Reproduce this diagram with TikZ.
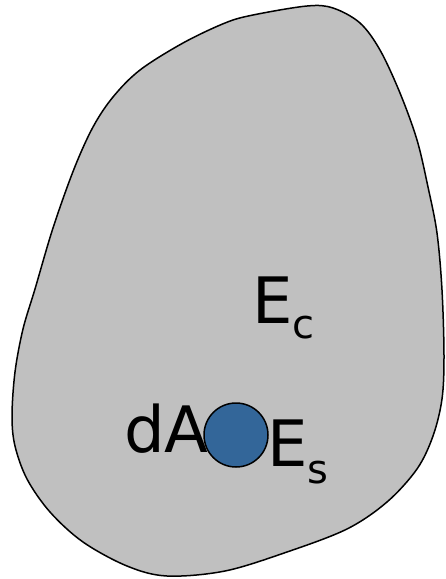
\documentclass[tikz,border=0pt]{standalone}
\usepackage{fontspec}
\setmainfont{DejaVu Sans}
\definecolor{blobgray}{HTML}{C0C0C0}
\definecolor{dotblue}{HTML}{336699}
\begin{document}
\begin{tikzpicture}[x=1pt,y=-1pt,
  lbl/.style={anchor=base west,inner sep=0pt,outer sep=0pt,font=\fontsize{64}{64}\selectfont},
  dot/.style={circle,draw=black,line width=1.5pt,fill=dotblue,minimum size=64pt,inner sep=0pt}]
\useasboundingbox (0,0) rectangle (445,579);
\path[fill=blobgray,draw=black,line width=1.5pt]
  plot[smooth cycle,tension=0.55] coordinates {
  (307,6) (333,8) (360,23) (380,50) (400,93) (417,140) (428,187) (437,233)
  (442,290) (444,356) (442,399) (433,436) (417,469) (387,502) (347,529)
  (287,552) (225,571) (167,576) (127,566) (83,542) (50,512) (27,479)
  (15,446) (12,416) (15,372) (23,329) (35,289) (53,228) (74,169)
  (93,127) (113,97) (140,70) (183,43) (225,23) (253,15)};
\node[lbl] (ec) at (252,323) {E\raisebox{-15pt}{\fontsize{40}{40}\selectfont c}};
\node[lbl] (da) at (124,452) {dA};
\node[dot] (dot) at (236,435) {};
\node[lbl] (es) at (267,466) {E\raisebox{-17pt}{\fontsize{40}{40}\selectfont s}};
\end{tikzpicture}
\end{document}
